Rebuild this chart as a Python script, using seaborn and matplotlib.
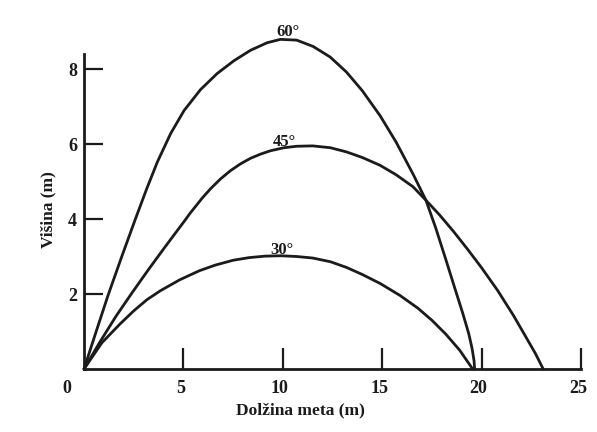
import numpy as np
import pandas as pd
import matplotlib
matplotlib.use("Agg")
import matplotlib.pyplot as plt
import matplotlib.transforms as mtransforms
import seaborn as sns

# ---- data ----
x60 = [0, 0.6, 1.2, 1.9, 2.6, 3.15, 3.69, 4.36, 5.03, 5.86, 6.7, 7.54, 8.38,
       9.21, 9.88, 10.7, 11.53, 12.38, 13.2, 14.0, 14.9, 15.7, 16.55, 17.2,
       17.7, 18.2, 18.65, 19.05, 19.35, 19.52, 19.62, 19.65]
y60 = [0, 0.98, 1.95, 3.0, 4.02, 4.8, 5.52, 6.28, 6.89, 7.45, 7.88, 8.22, 8.5,
       8.7, 8.79, 8.77, 8.6, 8.32, 7.92, 7.42, 6.75, 6.05, 5.2, 4.5,
       3.75, 2.92, 2.16, 1.49, 0.95, 0.55, 0.22, 0]

x45 = [0, 0.8, 1.6, 2.4, 3.2, 4.0, 4.52, 5.03, 5.36, 5.95, 6.37, 6.87, 7.37, 7.87,
       8.38, 8.88, 9.38, 10.05, 10.7, 11.5, 12.4, 13.2, 14.0, 14.9, 15.7, 16.55,
       17.2, 17.9, 18.6, 19.3, 20.0, 20.8, 21.6, 22.2, 22.7, 23.1]
y45 = [0, 0.72, 1.4, 2.02, 2.62, 3.2, 3.57, 3.93, 4.17, 4.56, 4.81, 5.07, 5.29, 5.47,
       5.62, 5.73, 5.82, 5.9, 5.94, 5.95, 5.9, 5.79, 5.64, 5.43, 5.18, 4.86,
       4.5, 4.1, 3.66, 3.19, 2.7, 2.1, 1.43, 0.88, 0.42, 0]

x30 = [0, 0.9, 1.81, 2.5, 3.17, 3.85, 4.82, 5.8, 6.6, 7.5, 8.3, 9.1, 9.9, 10.7,
       11.5, 12.4, 13.2, 14.0, 14.9, 15.9, 16.8, 17.5, 18.2, 18.9, 19.55]
y30 = [0, 0.7, 1.2, 1.55, 1.85, 2.09, 2.38, 2.62, 2.77, 2.9, 2.97, 3.01, 3.02, 3.0,
       2.96, 2.86, 2.71, 2.52, 2.28, 1.96, 1.62, 1.3, 0.93, 0.5, 0]

angle_labels = ["60°", "45°", "30°"]
x_ticks = [5, 10, 15, 20, 25]
x_tick_labels = ["5", "10", "15", "20", "25"]
origin_label = "0"
y_ticks = [2, 4, 6, 8]
y_tick_labels = ["2", "4", "6", "8"]
x_title = "Dolžina meta (m)"
y_title = "Višina (m)"

df = pd.concat([
    pd.DataFrame({"x": x60, "y": y60, "angle": angle_labels[0]}),
    pd.DataFrame({"x": x45, "y": y45, "angle": angle_labels[1]}),
    pd.DataFrame({"x": x30, "y": y30, "angle": angle_labels[2]}),
], ignore_index=True)

sns.set_style("white")
plt.rcParams["font.family"] = ["Liberation Serif", "DejaVu Serif"]

ink = "#1b1b1b"
fig = plt.figure(figsize=(5.97, 4.32), dpi=100)
fig.patch.set_facecolor("white")
ax = fig.add_axes([0.1407, 0.1458, 0.8325, 0.7292])
ax.set_facecolor("white")

sns.lineplot(data=df, x="x", y="y", hue="angle", palette=[ink] * 3,
             legend=False, sort=False, estimator=None, linewidth=2.0, ax=ax)
for ln in ax.lines:
    ln.set_clip_on(False)
    ln.set_solid_joinstyle("round")
    ln.set_solid_capstyle("round")

ax.set_xlim(0, 25)
ax.set_ylim(0, 8.4)
for s in ["top", "right"]:
    ax.spines[s].set_visible(False)
for s in ["left", "bottom"]:
    ax.spines[s].set_color(ink)
    ax.spines[s].set_linewidth(2.0)
ax.spines["left"].set_bounds(0, 8.4)
ax.spines["bottom"].set_bounds(0, 25)

ax.set_xticks(x_ticks)
ax.set_xticklabels(x_tick_labels)
ax.set_yticks(y_ticks)
ax.set_yticklabels(y_tick_labels)
ax.tick_params(axis="x", bottom=True, direction="in", length=15, width=1.6,
               color=ink, pad=8, labelsize=13, labelcolor=ink)
ax.tick_params(axis="y", left=True, direction="in", length=13.5, width=1.6,
               color=ink, pad=5, labelsize=13, labelcolor=ink)
for lab in ax.get_xticklabels():
    lab.set_fontweight("bold")
    lab.set_transform(lab.get_transform() +
                      mtransforms.ScaledTranslation(-3 / 100, 0, fig.dpi_scale_trans))
for lab in ax.get_yticklabels():
    lab.set_fontweight("bold")

ax.annotate(origin_label, xy=(-0.85, 0), xytext=(0, -8), textcoords="offset points",
            ha="center", va="top", fontsize=13, fontweight="bold", color=ink,
            annotation_clip=False)

ax.set_xlabel(x_title, fontsize=12.5, fontweight="bold", color=ink)
ax.xaxis.set_label_coords(0.435, -0.105)
ax.set_ylabel(y_title, fontsize=12.5, fontweight="bold", color=ink)
ax.yaxis.set_label_coords(-0.055, 0.505)

# angle labels above each curve's apex
peaks = [(10.25, 8.88), (10.1, 5.95), (9.95, 3.06)]
for (px, py), lab in zip(peaks, angle_labels):
    ax.text(px, py, lab, ha="center", va="baseline", fontsize=12,
            fontweight="bold", color=ink)

fig.savefig("out.png", dpi=100, facecolor="white")
